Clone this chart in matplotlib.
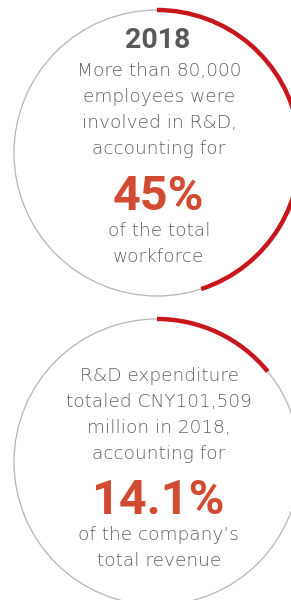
import matplotlib.pyplot as plt
from matplotlib.patches import Arc, Circle

# values shown as the red share of each ring (percent)
SHARES = [45, 14.1]
HEADINGS = ["2018", ""]
TOP_LINES = [
    ["More than 80,000", "employees were", "involved in R&D,", "accounting for"],
    ["R&D expenditure", "totaled CNY101,509", "million in 2018,", "accounting for"],
]
BIG_LABELS = ["45%", "14.1%"]
BOTTOM_LINES = [
    ["of the total", "workforce"],
    ["of the company\u2019s", "total revenue"],
]

RED = "#c8161d"
ORANGE = "#d14b32"
GREY_TEXT = "#606164"
DARK_TEXT = "#58595b"
RING = "#b5b5b5"

W, H = 291, 600
CX = 157
CENTERS_Y = [153, 462]
R = 143

plt.rcParams["font.family"] = ["Roboto", "DejaVu Sans"]
BODY_FONT = ["DejaVu Sans"]

fig = plt.figure(figsize=(W / 100, H / 100), dpi=100)
ax = fig.add_axes([0, 0, 1, 1])
ax.set_xlim(0, W)
ax.set_ylim(H, 0)
ax.set_aspect("equal")
ax.axis("off")

for i, cy in enumerate(CENTERS_Y):
    ax.add_patch(Circle((CX, cy), R, fill=False, edgecolor=RING, linewidth=0.9))
    # y axis is inverted, so angles run clockwise on screen
    sweep = SHARES[i] / 100 * 360
    ax.add_patch(Arc((CX, cy), 2 * R, 2 * R, theta1=-90, theta2=-90 + sweep,
                     edgecolor=RED, linewidth=3.2, capstyle="butt"))

    top = cy - R
    if HEADINGS[i]:
        ax.text(CX + 1, top + 38, HEADINGS[i], ha="center", va="baseline",
                fontsize=20.5, fontweight="bold", color=DARK_TEXT)

    first = top + 66 if i == 0 else top + 62
    for k, line in enumerate(TOP_LINES[i]):
        ax.text(CX + 2, first + 26 * k, line, ha="center", va="baseline",
                fontsize=13.3, family=BODY_FONT, fontweight="light", color=GREY_TEXT)

    big_y = first + 26 * 3 + 56 if i == 0 else first + 26 * 3 + 55
    ax.text(CX + 1, big_y, BIG_LABELS[i], ha="center", va="baseline",
            fontsize=35, fontweight="bold", color=ORANGE)

    for k, line in enumerate(BOTTOM_LINES[i]):
        ax.text(CX + 2, big_y + 26 + 25.5 * k, line, ha="center", va="baseline",
                fontsize=13.3, family=BODY_FONT, fontweight="light", color=GREY_TEXT)

fig.savefig("out.png", dpi=100, facecolor="white")
